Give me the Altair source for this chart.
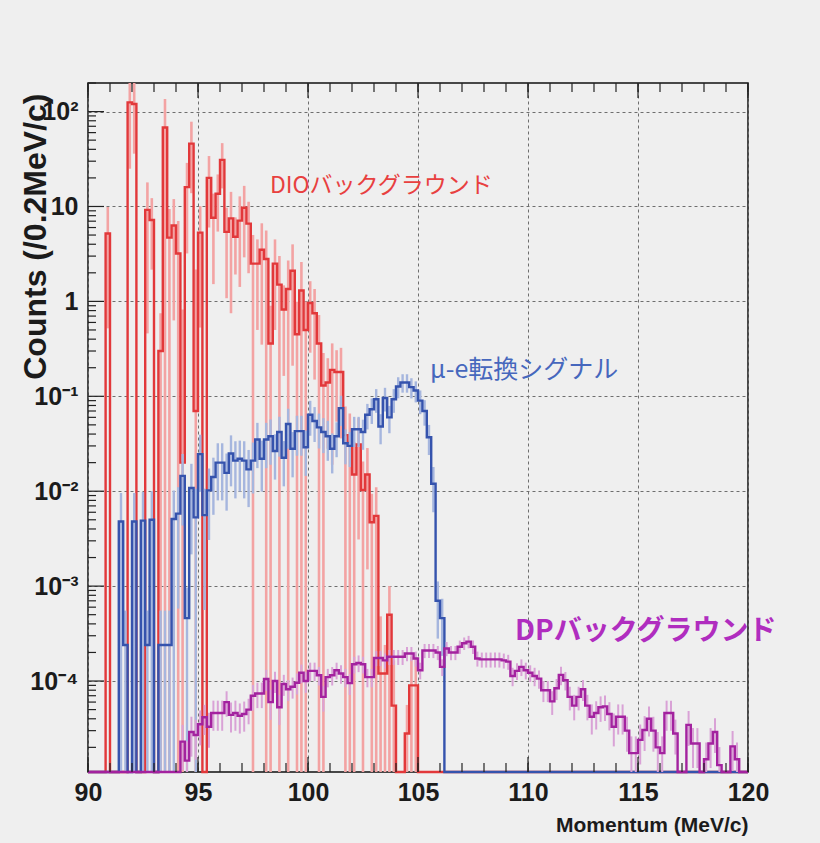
import math
import altair as alt
import pandas as pd

# ---------------- data ----------------
x_start = 90.0
bin_width = 0.2

dio_counts = [
    0, 0, 0, 0, 5.2, 0, 0, 0, 0, 125,
    120, 0, 0, 9.2, 7.2, 0, 0.3, 68, 4.7, 6.3,
    3.2, 0.02, 16, 46, 0.07, 5.3, 0, 20, 7.6, 13.6,
    31, 5.4, 7.5, 4.8, 7.1, 9.7, 6.6, 2.5, 2.5, 3.5,
    2.8, 0.36, 2.5, 1.5, 0.82, 1.35, 2.1, 0.45, 1.3, 0.5,
    0.96, 0.75, 0.36, 0.13, 0.14, 0.19, 0.18, 0.18, 0.039, 0.033,
    0.015, 0.031, 0.0103, 0.015, 0.0047, 0.0055, 1.2e-4, 1.2e-4, 5e-4, 5.5e-5,
    0, 0, 2.8e-5, 9e-5, 9e-5, 0, 0, 0, 0, 0,
] + [0] * 70

mue_counts = [
    0, 0, 0, 0, 0, 0, 0, 0.0048, 2.4e-4, 0,
    0.0048, 0, 0.0049, 2.4e-4, 0.005, 0, 2.4e-4, 2.4e-4, 2.4e-4, 0.0051,
    0.0058, 0.0145, 4.6e-4, 0.0108, 0.0053, 0.0246, 0.0056, 0.0102, 0.0141, 0.02,
    0.02, 0.0156, 0.025, 0.021, 0.022, 0.021, 0.017, 0.021, 0.035, 0.022,
    0.035, 0.038, 0.0265, 0.042, 0.0225, 0.051, 0.028, 0.043, 0.043, 0.029,
    0.064, 0.055, 0.047, 0.042, 0.038, 0.028, 0.038, 0.075, 0.032, 0.03,
    0.045, 0.045, 0.042, 0.064, 0.073, 0.093, 0.048, 0.096, 0.06, 0.093,
    0.127, 0.14, 0.14, 0.125, 0.115, 0.09, 0.07, 0.037, 0.012, 7e-4,
    4.6e-4,
] + [0] * 69

dp_counts = [0] * 21 + [
    2.3e-5, 1.45e-5, 2.9e-5, 2.7e-5, 3.5e-5, 4.15e-5, 3.3e-5, 4.6e-5, 4.6e-5,
    4.6e-5, 6e-5, 4.4e-5, 4.6e-5, 4.3e-5, 4.5e-5, 5e-5, 7e-5, 7.4e-5, 7.4e-5,
    1.05e-4, 6e-5, 1e-4, 5.3e-5, 9.3e-5, 8.2e-5, 8.7e-5, 9.6e-5, 1.22e-4, 1e-4,
    1.28e-4, 1.28e-4, 1.15e-4, 6.8e-5, 1.1e-4, 1.15e-4, 1.3e-4, 1.2e-4, 1.1e-4, 9.5e-5,
    1.5e-4, 1.55e-4, 1.5e-4, 1.1e-4, 1.1e-4, 1.75e-4, 1.75e-4, 1.65e-4, 1.8e-4, 1.8e-4,
    1.8e-4, 1.8e-4, 1.95e-4, 1.95e-4, 1.73e-4, 1.3e-4, 2.1e-4, 2.1e-4, 2.1e-4, 2.0e-4,
    1.41e-4, 2.2e-4, 2.0e-4, 2.0e-4, 2.3e-4, 2.5e-4, 2.6e-4, 2.3e-4, 1.73e-4, 1.69e-4,
    1.69e-4, 1.69e-4, 1.69e-4, 1.69e-4, 1.65e-4, 1.6e-4, 1.13e-4, 1.28e-4, 1.41e-4, 1.3e-4,
    1.22e-4, 1.13e-4, 1.06e-4, 8e-5, 8e-5, 6.1e-5, 8.4e-5, 1.16e-4, 1.02e-4, 6.8e-5,
    5.5e-5, 6.8e-5, 8.2e-5, 5.5e-5, 4.2e-5, 4.6e-5, 5.3e-5, 5.4e-5, 4.5e-5, 3.3e-5,
    4.2e-5, 4.2e-5, 3.0e-5, 1.74e-5, 1.74e-5, 2.4e-5, 3.05e-5, 4.0e-5, 3.0e-5, 2.0e-5,
    1.74e-5, 4.6e-5, 4.6e-5, 2.8e-5, 0, 0, 3.45e-5, 2.2e-5, 2.2e-5, 0,
    1.5e-5, 2.2e-5, 2.9e-5, 1.3e-5, 0, 0, 2.05e-5, 1.5e-5, 0, 0,
]

# relative errors (sigma / value)
dio_relerr = [
    0, 0, 0, 0, 0.9, 0, 0, 0, 0, 0.8,
    0.7, 0, 0, 0.95, 0.7, 0, 1.5, 1.0, 1.0, 0.9,
    1.2, 40, 0.8, 0.7, 30, 0.9, 0, 0.7, 0.8, 0.6,
    0.5, 0.8, 0.9, 0.6, 0.8, 0.7, 0.7, 1.0, 0.8, 0.9,
    1.0, 1.5, 0.8, 1.0, 0.8, 1.0, 0.9, 1.2, 1.0, 1.0,
    0.7, 0.8, 1.0, 1.2, 0.8, 0.9, 0.7, 0.8, 1.0, 1.0,
    1.2, 0.9, 1.0, 0.9, 1.0, 1.0, 3.0, 1.0, 1.0, 2.0,
    0, 0, 1.0, 1.0, 1.0, 0, 0, 0, 0, 0,
] + [0] * 70

mue_relerr = [
    0, 0, 0, 0, 0, 0, 0, 1.0, 1.3, 0,
    1.0, 0, 1.0, 1.3, 1.0, 0, 1.3, 1.3, 1.3, 1.0,
    0.9, 0.7, 1.1, 0.8, 1.0, 0.6, 0.9, 0.7, 0.6, 0.6,
    0.6, 0.6, 0.55, 0.6, 0.55, 0.6, 0.6, 0.55, 0.5, 0.55,
    0.5, 0.5, 0.5, 0.45, 0.5, 0.45, 0.5, 0.45, 0.45, 0.5,
    0.4, 0.4, 0.4, 0.4, 0.45, 0.45, 0.4, 0.35, 0.4, 0.4,
    0.35, 0.35, 0.35, 0.3, 0.3, 0.28, 0.35, 0.28, 0.32, 0.28,
    0.25, 0.22, 0.22, 0.24, 0.25, 0.28, 0.3, 0.35, 0.5, 0.6,
    0.6,
] + [0] * 69

dp_relerr = [0] * 21 + [
    0.5, 0.6, 0.45, 0.45, 0.4, 0.35, 0.4, 0.35, 0.35,
    0.35, 0.3, 0.35, 0.35, 0.35, 0.35, 0.3, 0.3, 0.3, 0.3,
    0.25, 0.35, 0.25, 0.35, 0.25, 0.25, 0.25, 0.25, 0.22, 0.25,
    0.22, 0.22, 0.22, 0.3, 0.22, 0.22, 0.2, 0.22, 0.22, 0.25,
    0.2, 0.2, 0.2, 0.22, 0.22, 0.18, 0.18, 0.18, 0.18, 0.18,
    0.18, 0.18, 0.17, 0.17, 0.18, 0.2, 0.17, 0.17, 0.17, 0.17,
    0.2, 0.17, 0.17, 0.17, 0.16, 0.15, 0.15, 0.16, 0.18, 0.18,
    0.18, 0.18, 0.18, 0.18, 0.18, 0.18, 0.22, 0.2, 0.2, 0.2,
    0.2, 0.22, 0.22, 0.25, 0.25, 0.28, 0.25, 0.22, 0.22, 0.28,
    0.3, 0.28, 0.25, 0.3, 0.35, 0.33, 0.3, 0.3, 0.33, 0.38,
    0.35, 0.35, 0.4, 0.5, 0.5, 0.45, 0.4, 0.35, 0.4, 0.45,
    0.5, 0.35, 0.35, 0.4, 0, 0, 0.4, 0.45, 0.45, 0,
    0.5, 0.45, 0.4, 0.55, 0, 0, 0.45, 0.5, 0, 0,
]

x_label_values = [90, 95, 100, 105, 110, 115, 120]
x_minor_values = list(range(90, 121))
y_label_values = [1e-4, 1e-3, 1e-2, 1e-1, 1, 10, 100]
y_label_texts = ["10⁻⁴", "10⁻³", "10⁻²", "10⁻¹", "1", "10", "10²"]
y_tick_decades = [-5, -4, -3, -2, -1, 0, 1, 2]
y_tick_mantissas = [2, 3, 4, 5, 6, 7, 8, 9]

annot_texts = ["DIOバックグラウンド", "μ-e転換シグナル", "DPバックグラウンド"]
annot_x = [98.27, 105.55, 109.41]
annot_y = [16.6, 0.187, 3.28e-4]

# ---------------- styling ----------------
W, H = 660, 689
X_MIN, X_MAX = 90.0, 120.0
Y_MIN, Y_MAX = 1.1e-5, 200.0
NUM_FONT = "Liberation Sans Narrow, Liberation Sans, Arial, sans-serif"
TITLE_FONT = "Liberation Sans, Arial, sans-serif"
JP_FONT = "Noto Sans CJK JP"
BG = "#efefef"
TICK_COLOR = "#222222"

line_colors = {"DIO": "#e2383a", "MUE": "#3553ad", "DP": "#a3229f"}
err_colors = {"DIO": "#f3a3a3", "MUE": "#a6b6de", "DP": "#d9a2d6"}
annot_colors = ["#e8403f", "#4667bd", "#b02dbf"]
annot_sizes = [23, 25, 28]
annot_weights = ["normal", "normal", "bold"]

# pixel -> data conversion factors, used only for tick lengths
PX_PER_DECADE = H / math.log10(Y_MAX / Y_MIN)
PX_PER_X = W / (X_MAX - X_MIN)


def build(counts, relerr):
    line_rows, err_rows = [], []
    for i, (v, r) in enumerate(zip(counts, relerr)):
        x0 = round(x_start + bin_width * i, 4)
        line_rows.append({"x": x0, "y": v if v > 0 else Y_MIN})
        if v > 0 and r > 0:
            lo = v * (1 - r) if r < 1 else Y_MIN
            err_rows.append({"xc": round(x0 + bin_width / 2, 4),
                             "lo": max(lo, Y_MIN),
                             "hi": min(v * (1 + r), Y_MAX)})
    line_rows.append({"x": round(x_start + bin_width * len(counts), 4),
                      "y": line_rows[-1]["y"]})
    return pd.DataFrame(line_rows), pd.DataFrame(err_rows)


dio_line, dio_err = build(dio_counts, dio_relerr)
mue_line, mue_err = build(mue_counts, mue_relerr)
dp_line, dp_err = build(dp_counts, dp_relerr)

xs = alt.Scale(domain=[X_MIN, X_MAX], nice=False, zero=False)
ys = alt.Scale(type="log", domain=[Y_MIN, Y_MAX], nice=False)

label_expr = ""
for val, txt in zip(y_label_values, y_label_texts):
    label_expr += f"(datum.value > {val * 0.5} && datum.value < {val * 2}) ? '{txt}' : "
label_expr += "''"

y_minor_values = [m * 10 ** d for d in y_tick_decades for m in y_tick_mantissas
                  if Y_MIN <= m * 10 ** d <= Y_MAX]
y_major_values = [10 ** d for d in y_tick_decades if Y_MIN <= 10 ** d <= Y_MAX]

GRID = dict(grid=True, gridColor="#6e6e6e", gridDash=[3, 3], gridWidth=1)

ax_x_labels = alt.Axis(orient="bottom", values=x_label_values, ticks=False, tickSize=0,
                       domain=False, labelFont=NUM_FONT, labelFontSize=25,
                       labelFontWeight="bold", labelColor="#1b1b1b", labelPadding=8,
                       labelFlush=False,
                       title="Momentum (MeV/c)", titleAnchor="end", titleFont=NUM_FONT,
                       titleFontSize=21, titleFontWeight="bold", titleColor="#1b1b1b",
                       titlePadding=9, **GRID)
ax_y_labels = alt.Axis(orient="left", values=y_label_values, labelExpr=label_expr,
                       ticks=False, tickSize=0, domain=False, labelFont=NUM_FONT,
                       labelFontSize=25, labelFontWeight="bold", labelColor="#1b1b1b",
                       labelPadding=10, labelFlush=False,
                       title="Counts (/0.2MeV/c)", titleFont=TITLE_FONT,
                       titleFontSize=32, titleFontWeight="bold", titleColor="#1b1b1b",
                       titleAngle=270, titleAnchor="end", titleAlign="right",
                       titleBaseline="middle", titleX=-53, titleY=10, **GRID)


def err_layer(df, key, width, xaxis=None, yaxis=None):
    return alt.Chart(df).mark_rule(color=err_colors[key], strokeWidth=width).encode(
        x=alt.X("xc:Q", scale=xs, axis=xaxis),
        y=alt.Y("lo:Q", scale=ys, axis=yaxis),
        y2="hi:Q",
    )


def line_layer(df, key):
    return alt.Chart(df).mark_line(interpolate="step-after", color=line_colors[key],
                                   strokeWidth=2.4).encode(
        x=alt.X("x:Q", scale=xs, axis=None),
        y=alt.Y("y:Q", scale=ys, axis=None),
    )


# inward-pointing frame ticks, placed through the scales from the tick lists
def x_ticks(values, length_px, at_top):
    f = 10 ** (length_px / PX_PER_DECADE)
    if at_top:
        y0, y1 = Y_MAX / f, Y_MAX
    else:
        y0, y1 = Y_MIN, Y_MIN * f
    df = pd.DataFrame({"v": values, "a": [y0] * len(values), "b": [y1] * len(values)})
    return alt.Chart(df).mark_rule(color=TICK_COLOR, strokeWidth=1.2).encode(
        x=alt.X("v:Q", scale=xs, axis=None),
        y=alt.Y("a:Q", scale=ys, axis=None), y2="b:Q")


def y_ticks(values, length_px):
    x1 = X_MIN + length_px / PX_PER_X
    df = pd.DataFrame({"v": values, "a": [X_MIN] * len(values), "b": [x1] * len(values)})
    return alt.Chart(df).mark_rule(color=TICK_COLOR, strokeWidth=1.2).encode(
        y=alt.Y("v:Q", scale=ys, axis=None),
        x=alt.X("a:Q", scale=xs, axis=None), x2="b:Q")


layers = [
    err_layer(dio_err, "DIO", 2.6, ax_x_labels, ax_y_labels),
    line_layer(dio_line, "DIO"),
    err_layer(mue_err, "MUE", 2.4),
    line_layer(mue_line, "MUE"),
    err_layer(dp_err, "DP", 2.0),
    line_layer(dp_line, "DP"),
    x_ticks(x_minor_values, 9, False),
    x_ticks(x_label_values, 15, False),
    x_ticks(x_minor_values, 9, True),
    x_ticks(x_label_values, 15, True),
    y_ticks(y_minor_values, 8),
    y_ticks(y_major_values, 16),
]

for t, xv, yv, c, s, w in zip(annot_texts, annot_x, annot_y, annot_colors,
                              annot_sizes, annot_weights):
    df = pd.DataFrame({"x": [xv], "y": [yv], "t": [t]})
    layers.append(
        alt.Chart(df).mark_text(align="left", baseline="middle", font=JP_FONT,
                                fontSize=s, fontWeight=w, color=c).encode(
            x=alt.X("x:Q", scale=xs, axis=None),
            y=alt.Y("y:Q", scale=ys, axis=None),
            text="t:N",
        )
    )

chart = alt.layer(*layers).resolve_axis(x="independent", y="independent").properties(
    width=W, height=H,
    padding={"left": 88, "top": 83, "right": 72, "bottom": 71},
    autosize=alt.AutoSizeParams(type="none"),
    background=BG,
).configure_view(stroke="#111111", strokeWidth=1.5, fill=BG)

chart.save("out.html", embed_options={"renderer": "svg", "actions": False})
